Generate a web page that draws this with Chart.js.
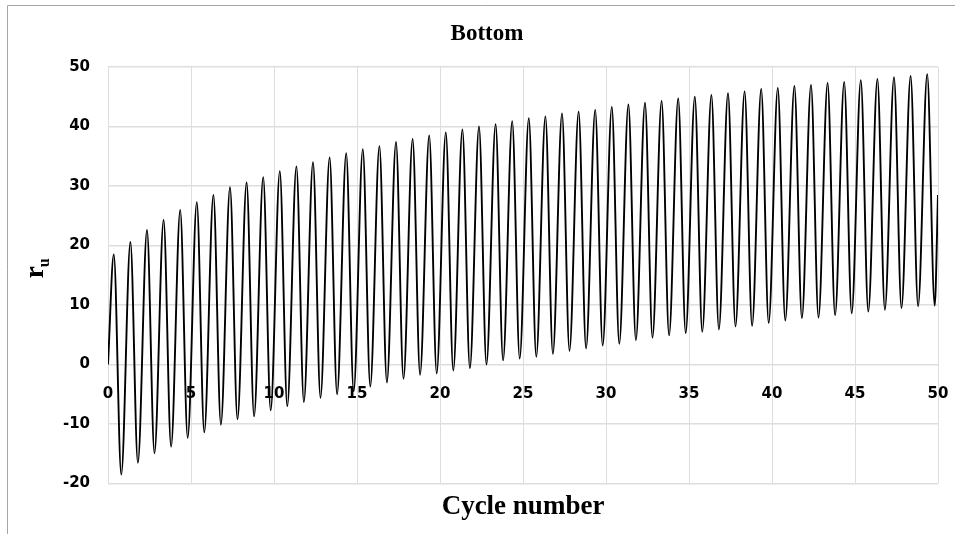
<!DOCTYPE html>
<html>
<head>
<meta charset="utf-8">
<title>Bottom</title>
<script src="https://cdn.jsdelivr.net/npm/chart.js@4.4.1/dist/chart.umd.min.js"></script>
<style>
    html, body { margin: 0; padding: 0; background: #fff; }
    canvas { display: block; }
</style>
</head>
<body>
<canvas id="ruChart" width="955" height="534"></canvas>
<script>
    // ============================================
    // DATA
    // ============================================
    // peak and trough of r_u in each loading cycle (cycle 0..49)
    const cycleNumbers = Array.from({ length: 50 }, (_, i) => i);
    const peakValues = [
        18.5, 20.6, 22.6, 24.3, 26.0, 27.3, 28.5, 29.8, 30.6, 31.5,
        32.5, 33.3, 34.0, 34.8, 35.5, 36.2, 36.7, 37.4, 37.9, 38.5,
        39.0, 39.5, 40.0, 40.4, 40.9, 41.4, 41.7, 42.2, 42.5, 42.8,
        43.3, 43.7, 44.0, 44.3, 44.7, 45.0, 45.3, 45.6, 45.9, 46.3,
        46.5, 46.8, 47.0, 47.3, 47.5, 47.8, 48.0, 48.3, 48.5, 48.8
    ];
    const troughValues = [
        -18.5, -16.5, -14.9, -13.8, -12.3, -11.4, -10.1, -9.2, -8.7, -7.7,
        -7.0, -6.3, -5.6, -5.0, -4.5, -3.7, -3.0, -2.4, -1.7, -1.5,
        -1.0, -0.6, 0.0, 0.7, 1.0, 1.3, 1.8, 2.3, 2.7, 3.2,
        3.5, 4.1, 4.5, 4.9, 5.3, 5.5, 5.9, 6.4, 6.5, 7.0,
        7.4, 7.8, 7.9, 8.3, 8.6, 8.9, 9.2, 9.5, 9.8, 9.9
    ];
    // where in each cycle the peak and trough occur
    const peakPhase = 0.35;
    const troughPhase = 0.8;
    const startPoint = { x: 0, y: 0 };
    const endPoint = { x: 50, y: 28.5 };

    const xTicks = [0, 5, 10, 15, 20, 25, 30, 35, 40, 45, 50];
    const yTicks = [-20, -10, 0, 10, 20, 30, 40, 50];

    const ruPoints = [startPoint];
    cycleNumbers.forEach(function(n) {
        ruPoints.push({ x: n + peakPhase, y: peakValues[n] });
        ruPoints.push({ x: n + troughPhase, y: troughValues[n] });
    });
    ruPoints.push(endPoint);

    const serifFamily = '"Liberation Serif", "Times New Roman", serif';

    // ============================================
    // PLUGINS
    // ============================================
    // thin frame along the top and left edge of the picture
    const frameLines = {
        id: 'frameLines',
        beforeDraw: function(chart) {
            const ctx = chart.ctx;
            ctx.save();
            ctx.strokeStyle = '#a6a6a6';
            ctx.lineWidth = 1;
            ctx.beginPath();
            ctx.moveTo(7.5, chart.height);
            ctx.lineTo(7.5, 5.5);
            ctx.lineTo(chart.width, 5.5);
            ctx.stroke();
            ctx.restore();
        }
    };

    // chart heading
    const headingText = {
        id: 'headingText',
        afterDraw: function(chart) {
            const ctx = chart.ctx;
            ctx.save();
            ctx.fillStyle = '#000';
            ctx.textAlign = 'center';
            ctx.textBaseline = 'alphabetic';
            ctx.font = 'bold 23px ' + serifFamily;
            ctx.fillText('Bottom', 487, 40);
            ctx.restore();
        }
    };

    // y axis title: r with subscript u, rotated
    const ruAxisTitle = {
        id: 'ruAxisTitle',
        afterDraw: function(chart) {
            const ctx = chart.ctx;
            const area = chart.chartArea;
            const midY = (area.top + area.bottom) / 2;
            ctx.save();
            ctx.translate(43, midY + 3);
            ctx.rotate(-Math.PI / 2);
            ctx.fillStyle = '#000';
            ctx.textBaseline = 'alphabetic';
            ctx.textAlign = 'left';
            ctx.font = 'bold 27px ' + serifFamily;
            ctx.fillText('r', 0, 0);
            const rWidth = ctx.measureText('r').width;
            ctx.font = 'bold 16px ' + serifFamily;
            ctx.fillText('u', rWidth - 1, 6);
            ctx.restore();
        }
    };

    // ============================================
    // r_u vs CYCLE NUMBER CHART
    // ============================================
    const tickFont = { family: '"DejaVu Sans", sans-serif', size: 15, weight: 'bold' };
    const gridColor = '#dedede';

    new Chart(document.getElementById('ruChart'), {
        type: 'line',
        data: {
            datasets: [{
                label: 'r_u',
                data: ruPoints,
                borderColor: '#000',
                borderWidth: 1.9,
                pointRadius: 0,
                cubicInterpolationMode: 'monotone',
                fill: false
            }]
        },
        options: {
            responsive: false,
            animation: false,
            layout: {
                padding: { top: 67, right: 17, bottom: 6, left: 0 }
            },
            plugins: {
                legend: { display: false },
                tooltip: { enabled: false },
                title: { display: false },
                subtitle: {
                    display: true,
                    position: 'bottom',
                    fullSize: false,
                    text: 'Cycle number',
                    color: '#000',
                    font: { family: serifFamily, size: 27, weight: 'bold' },
                    padding: { top: 7, bottom: 5 }
                }
            },
            scales: {
                x: {
                    type: 'linear',
                    position: { y: 0 },
                    min: 0,
                    max: 50,
                    afterBuildTicks: function(scale) {
                        scale.ticks = xTicks.map(v => ({ value: v }));
                    },
                    afterFit: function(scale) {
                        // labels sit on the zero line, so this axis takes no room
                        scale.height = 0;
                        scale.paddingLeft = 0;
                        scale.paddingRight = 0;
                    },
                    grid: { color: gridColor, drawTicks: false },
                    border: { display: false },
                    ticks: {
                        color: '#000',
                        font: tickFont,
                        padding: 21,
                        maxRotation: 0,
                        autoSkip: false
                    }
                },
                y: {
                    min: -20,
                    max: 50,
                    afterBuildTicks: function(scale) {
                        scale.ticks = yTicks.map(v => ({ value: v }));
                    },
                    afterFit: function(scale) {
                        scale.width = 108;
                    },
                    grid: { color: gridColor, drawTicks: false, lineWidth: 1.5 },
                    border: { display: false },
                    ticks: {
                        color: '#000',
                        font: tickFont,
                        padding: 18
                    }
                }
            }
        },
        plugins: [frameLines, headingText, ruAxisTitle]
    });
</script>
</body>
</html>
